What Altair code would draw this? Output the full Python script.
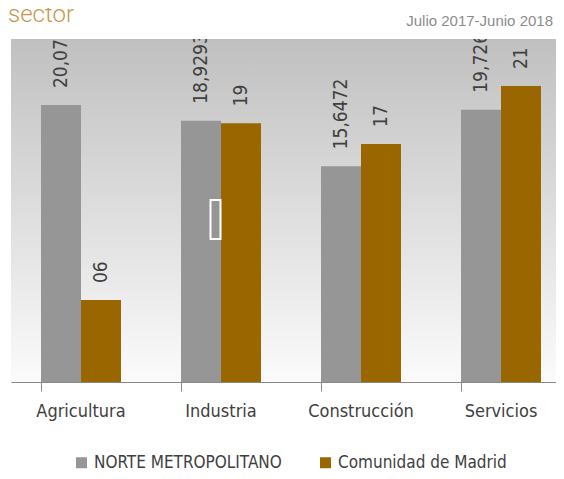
import altair as alt
import pandas as pd

categories = ["Agricultura", "Industria", "Construcción", "Servicios"]
series = ["NORTE METROPOLITANO", "Comunidad de Madrid"]
norte_values = [20.07, 18.93, 15.63, 19.73]
madrid_values = [5.94, 18.75, 17.25, 21.45]
norte_labels = ["20,070", "18,9293", "15,6472", "19,726"]
madrid_labels = ["06", "19", "17", "21"]
title_text = ["sector"]
subtitle_text = ["Julio 2017-Junio 2018"]
marker_cat = ["Industria"]
marker_lo = [10.36]
marker_hi = [13.19]

rows = []
for i, c in enumerate(categories):
    rows.append({"cat": c, "series": series[0], "value": norte_values[i], "label": norte_labels[i]})
    rows.append({"cat": c, "series": series[1], "value": madrid_values[i], "label": madrid_labels[i]})
df = pd.DataFrame(rows)

FONT = "'DejaVu Sans Condensed', 'Liberation Sans Narrow', sans-serif"

x_enc = alt.X("cat:N", sort=categories, title=None,
              scale=alt.Scale(paddingInner=0.4286, paddingOuter=0.2143, range=[0, 560]),
              axis=alt.Axis(labelAngle=0, bandPosition=0, tickSize=9, labelPadding=11,
                            domainColor="#888888", tickColor="#888888", labelColor="#404040",
                            labelFont=FONT, labelFontSize=18, grid=False))
y_enc = alt.Y("value:Q", scale=alt.Scale(domain=[0, 24.86], nice=False), axis=None)
off_enc = alt.XOffset("series:N", sort=series, scale=alt.Scale(paddingInner=0, paddingOuter=0))

bg = alt.Chart(pd.DataFrame({"a": [0]})).mark_rect(
    color=alt.LinearGradient(gradient="linear",
                             stops=[alt.GradientStop(offset=0, color="#c0c0c0"),
                                    alt.GradientStop(offset=1, color="#fbfbfb")],
                             x1=0, x2=0, y1=0, y2=1)
).encode(x=alt.value(0), x2=alt.value("width"), y=alt.value(0), y2=alt.value("height"))

base = alt.Chart(df)
bars = base.mark_bar().encode(
    x=x_enc, y=y_enc, xOffset=off_enc,
    color=alt.Color("series:N", sort=series,
                    scale=alt.Scale(domain=series, range=["#969696", "#996600"]),
                    legend=alt.Legend(title=None, orient="none", legendX=62, legendY=415,
                                      direction="horizontal", symbolType="square",
                                      symbolSize=121, symbolStrokeWidth=0, labelFont=FONT,
                                      labelFontSize=17, labelColor="#404040", labelOffset=4,
                                      labelLimit=0, columnPadding=35, padding=0))
)
texts = base.mark_text(angle=270, align="left", baseline="middle", dx=17, clip=True,
                       font=FONT, fontSize=19, color="#404040").encode(
    x=alt.X("cat:N", sort=categories), y="value:Q", xOffset=alt.XOffset("series:N", sort=series),
    text="label:N"
)

marker = alt.Chart(pd.DataFrame({"cat": marker_cat, "lo": marker_lo, "hi": marker_hi})).mark_bar(
    filled=False, stroke="white", strokeWidth=2, width=10
).encode(x=alt.X("cat:N", sort=categories), y="lo:Q", y2="hi:Q", xOffset=alt.value(34.5))

sub = alt.Chart(pd.DataFrame({"t": subtitle_text})).mark_text(
    align="right", baseline="alphabetic", font="'Liberation Sans', Arial, sans-serif",
    fontSize=15, color="#8c8c8c"
).encode(text="t:N", x=alt.value(542), y=alt.value(-13))

ttl = alt.Chart(pd.DataFrame({"t": title_text})).mark_text(
    align="left", baseline="alphabetic", font="Roboto", fontWeight=300,
    fontSize=24, color="#c9964e"
).encode(text="t:N", x=alt.value(-3), y=alt.value(-17))

chart = alt.layer(bg, bars, marker, texts, sub, ttl).properties(
    width=545, height=343,
    autosize=alt.AutoSizeParams(type="none"),
    padding={"left": 3, "top": 31, "right": 0, "bottom": 89},
).configure_view(stroke=None)

chart.save("out.html", embed_options={"renderer": "svg", "actions": False})
